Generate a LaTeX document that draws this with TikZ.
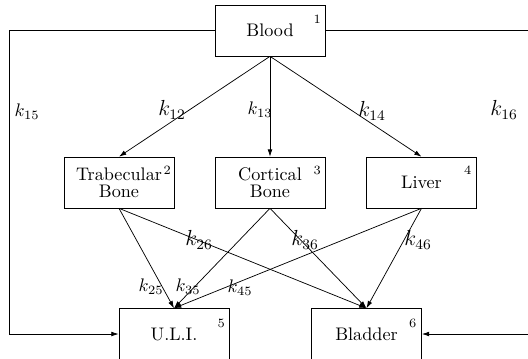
\documentclass[tikz,border=0pt]{standalone}
\usepackage{amsmath,amssymb}
\usetikzlibrary{arrows.meta, positioning, calc}

\begin{document}
\begin{tikzpicture}[
    x=0.55pt, y=-0.55pt,
    >={Latex[length=4pt, width=2.6pt]},
    line width=0.4pt,
    compbox/.style={draw, rectangle, minimum width=60.5pt, minimum height=28pt,
      align=center, inner sep=1pt, font=\normalsize},
    compnum/.style={font=\scriptsize, inner sep=0pt},
    rate/.style={font=\normalsize, inner sep=0pt},
    bigrate/.style={font=\large, inner sep=0pt},
  ]

  % Frame of the page
  \useasboundingbox (0,0) rectangle (528,358);

  % Compartments
  \node[compbox] (blood) at (270,30.5) {Blood};
  \node[compbox] (trab)  at (119,182.5) {Trabecular\\[-2.5pt]Bone};
  \node[compbox] (cort)  at (270,182.5) {Cortical\\[-2.5pt]Bone};
  \node[compbox] (liver) at (421.5,182.5) {Liver};
  \node[compbox] (uli)   at (174,334) {U.L.I.};
  \node[compbox] (bladder) at (366.5,334) {Bladder};

  % Compartment numbers
  \node[compnum] (n1) at ($(blood.north east)+(-8,15)$) {1};
  \node[compnum] (n2) at ($(trab.north east)+(-7,14)$) {2};
  \node[compnum] (n3) at ($(cort.north east)+(-8,14)$) {3};
  \node[compnum] (n4) at ($(liver.north east)+(-9,14)$) {4};
  \node[compnum] (n5) at ($(uli.north east)+(-8,15)$) {5};
  \node[compnum] (n6) at ($(bladder.north east)+(-9,15)$) {6};

  % Blood to the middle row
  \draw[->] (blood.south) -- (trab.north);
  \draw[->] (blood.south) -- (cort.north);
  \draw[->] (blood.south) -- (liver.north);

  % Blood straight to the excretion routes
  \coordinate (lcorner) at (9,30.5);
  \coordinate (rcorner) at (531,30.5);
  \draw[->] (blood.west) -- (lcorner) |- (uli.west);
  \draw[->] (blood.east) -- (rcorner) |- (bladder.east);

  % Middle row to the excretion routes
  \draw[->] (trab.south) -- (uli.north);
  \draw[->] (trab.south) -- (bladder.north);
  \draw[->] (cort.south) -- (uli.north);
  \draw[->] (cort.south) -- (bladder.north);
  \draw[->] (liver.south) -- (uli.north);
  \draw[->] (liver.south) -- (bladder.north);

  % Rate constants
  \node[rate]    (k15) at (27,112)  {$k_{15}$};
  \node[bigrate] (k12) at (172,110) {$k_{12}$};
  \node[rate]    (k13) at (260,110) {$k_{13}$};
  \node[bigrate] (k14) at (372,111) {$k_{14}$};
  \node[bigrate] (k16) at (504,110) {$k_{16}$};
  \node[bigrate] (k26) at (199,240) {$k_{26}$};
  \node[bigrate] (k36) at (305,240) {$k_{36}$};
  \node[bigrate] (k46) at (418,240) {$k_{46}$};
  \node[rate]    (k25) at (151,287) {$k_{25}$};
  \node[rate]    (k35) at (188,287) {$k_{35}$};
  \node[rate]    (k45) at (240,288) {$k_{45}$};

\end{tikzpicture}
\end{document}
